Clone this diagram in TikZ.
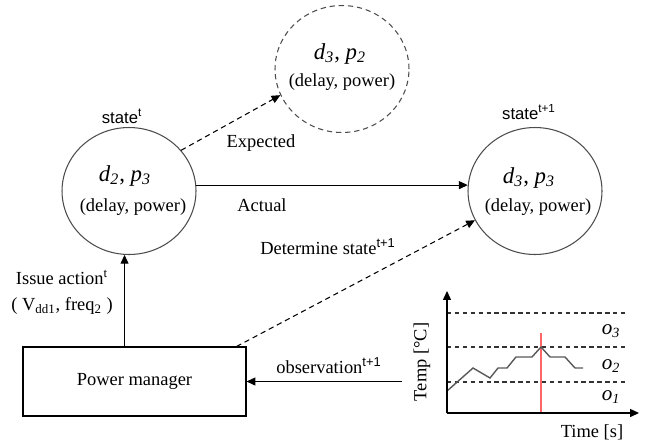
\documentclass[tikz,border=0pt]{standalone}
\usepackage{fontspec}
\setmainfont{Liberation Serif}
\newfontfamily\labelsans{Liberation Sans}
\usepackage{tikz}
\usetikzlibrary{arrows.meta,positioning,shapes.geometric}
\newcommand{\ssup}[1]{\textsuperscript{\labelsans #1}}
\newcommand{\itsub}[2]{\textit{#1}\textsubscript{\textit{#2}}}

\begin{document}
\begin{tikzpicture}[x=0.02cm,y=-0.02cm,
  state/.style={ellipse,draw=black!70,line width=0.6pt,
              minimum width=2.68cm,minimum height=2.54cm,inner sep=0pt},
  pair/.style={font=\fontsize{13}{14}\selectfont,inner sep=1pt},
  txt/.style={font=\fontsize{10.5}{12}\selectfont,inner sep=1pt},
  stlab/.style={font=\labelsans\fontsize{9.5}{11}\selectfont,inner sep=1pt},
  box/.style={draw,line width=0.6pt,minimum width=4.46cm,minimum height=1.38cm,
              font=\fontsize{10.5}{12}\selectfont},
  arr/.style={-{Triangle[length=5pt,width=4.5pt]},line width=0.6pt},
  darr/.style={arr,dash pattern=on 3pt off 2.2pt},
  level/.style={line width=0.6pt,black!80,dash pattern=on 2.5pt off 2pt}]
  \useasboundingbox (0,0) rectangle (649,444);
  % states
  \node[state] (st) at (129,191) {};
  \node[state,dashed,dash pattern=on 3pt off 2.2pt] (ex) at (342,69) {};
  \node[state] (nx) at (535,191) {};
  \node[pair] (stp) at (125,176) {\itsub{d}{2}, \itsub{p}{3}};
  \node[txt]  (std) at (133,207) {(delay, power)};
  \node[pair] (exp) at (340,54) {\itsub{d}{3}, \itsub{p}{2}};
  \node[txt]  (exd) at (342,82) {(delay, power)};
  \node[pair] (nxp) at (529,178) {\itsub{d}{3}, \itsub{p}{3}};
  \node[txt]  (nxd) at (538,207) {(delay, power)};
  \node[stlab] (stl) at (122,116) {state\ssup{t}};
  \node[stlab] (nxl) at (529,112) {state\ssup{t+1}};
  % power manager
  \node[box] (pm) at (134.5,381.5) {Power manager};
  \coordinate (obs) at (402,381.5);
  % transitions
  \draw[darr] (st.38) -- (ex.203);
  \draw[arr] (st.5) -- (nx.175);
  \draw[darr] ([xshift=-0.2cm]pm.north east) -- (nx.206);
  \draw[arr] (st.266 |- pm.north) -- (st.266);
  \draw[arr] (obs) -- (obs -| pm.east);
  \node[txt] (lexp) at (261,143) {Expected};
  \node[txt] (lact) at (262,205) {Actual};
  \node[txt] (ldet) at (328,247) {Determine state\ssup{t+1}};
  \node[txt] (lobs) at (329,366) {observation\ssup{t+1}};
  \node[txt] (liss) at (62,277) {Issue action\textsuperscript{t}};
  \node[txt] (lact2) at (62,306) {( V\textsubscript{dd1}, freq\textsubscript{2} )};
  % temperature plot
  \foreach \yy in {313,347,382}
    \draw[level] (447,\yy) -- (628,\yy);
  \draw[red!60,line width=0.8pt] (541,333) -- (541,413);
  \draw[black!65,line width=0.8pt] (447,391) -- (473,368) -- (490,378) -- (498,368)
    -- (507,368) -- (516,357) -- (532,357) -- (541,347) -- (550,357) -- (565,357)
    -- (575,368) -- (583,368);
  \draw[arr] (447,413) -- (447,291);
  \draw[arr] (447,413) -- (639,413);
  \node[pair,font=\fontsize{12}{13}\selectfont] (o3) at (611,331) {\itsub{o}{3}};
  \node[pair,font=\fontsize{12}{13}\selectfont] (o2) at (611,366) {\itsub{o}{2}};
  \node[pair,font=\fontsize{12}{13}\selectfont] (o1) at (611,397) {\itsub{o}{1}};
  \node[txt,rotate=90] (ltemp) at (422,362) {Temp [°C]};
  \node[txt] (ltime) at (592,432) {Time [s]};
\end{tikzpicture}
\end{document}
